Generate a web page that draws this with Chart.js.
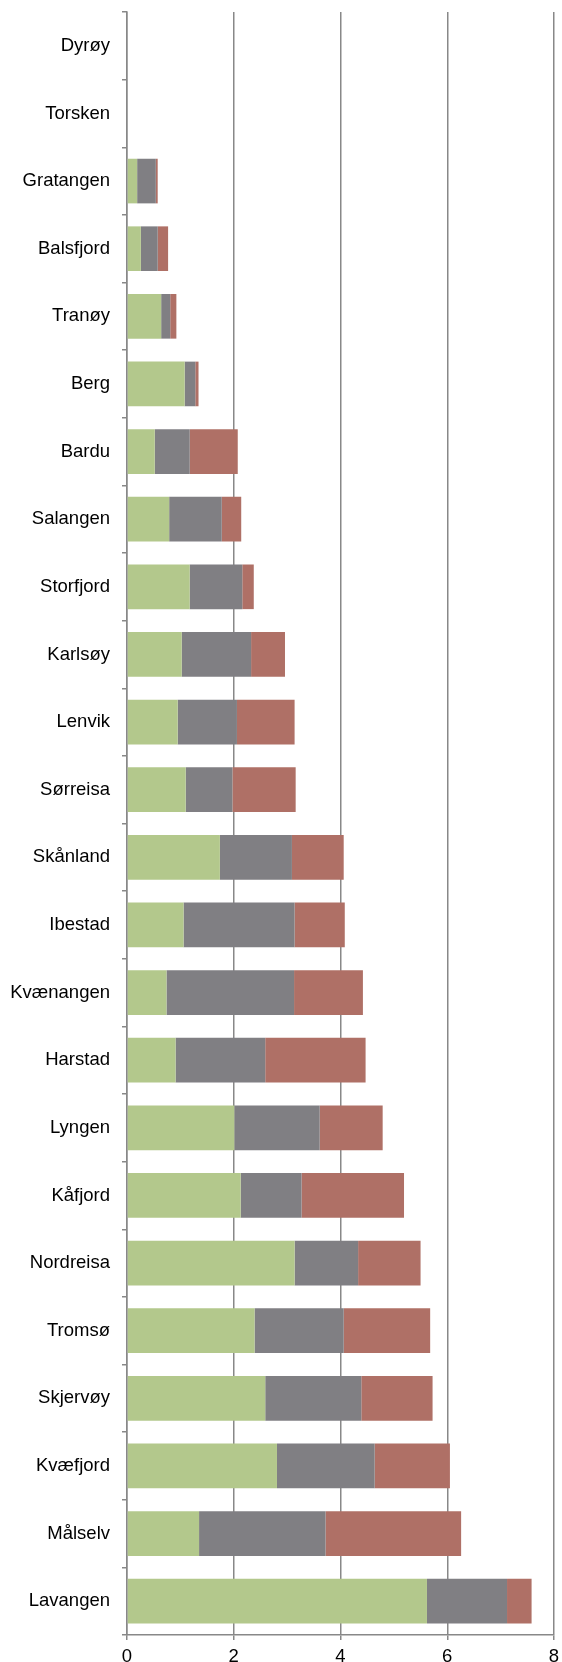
<!DOCTYPE html>
<html>
<head>
<meta charset="utf-8">
<script src="https://cdn.jsdelivr.net/npm/chart.js@4/dist/chart.umd.min.js"></script>
<style>
  html, body { margin: 0; padding: 0; background: #fff; overflow: hidden; }
  .wrap { position: relative; width: 562px; height: 1700px; }
</style>
</head>
<body>
<div class="wrap"><canvas id="chart"></canvas></div>
<script>
// kommuner, top to bottom
const kommuner = ['Dyrøy', 'Torsken', 'Gratangen', 'Balsfjord', 'Tranøy', 'Berg', 'Bardu',
  'Salangen', 'Storfjord', 'Karlsøy', 'Lenvik', 'Sørreisa', 'Skånland', 'Ibestad',
  'Kvænangen', 'Harstad', 'Lyngen', 'Kåfjord', 'Nordreisa', 'Tromsø', 'Skjervøy',
  'Kvæfjord', 'Målselv', 'Lavangen'];

// three stacked series (green, grey, red)
const serie1 = [0, 0, 0.19, 0.26, 0.64, 1.08, 0.52, 0.79, 1.175, 1.025, 0.95, 1.10, 1.74, 1.06,
  0.74, 0.91, 2.01, 2.13, 3.14, 2.39, 2.59, 2.81, 1.35, 5.62];
const serie2 = [0, 0, 0.35, 0.315, 0.17, 0.20, 0.655, 0.985, 0.985, 1.30, 1.11, 0.875, 1.35, 2.08,
  2.39, 1.68, 1.60, 1.14, 1.19, 1.67, 1.80, 1.83, 2.37, 1.50];
const serie3 = [0, 0, 0.035, 0.195, 0.115, 0.06, 0.90, 0.365, 0.215, 0.635, 1.08, 1.185, 0.97, 0.94,
  1.29, 1.88, 1.18, 1.92, 1.17, 1.62, 1.335, 1.41, 2.54, 0.46];

const xTicks = [0, 2, 4, 6, 8];

const gridColor = '#888888';
const fontSpec = { family: '"Liberation Sans", Arial, sans-serif', size: 18.5 };

new Chart(document.getElementById('chart'), {
  type: 'bar',
  data: {
    labels: kommuner,
    datasets: [
      { label: 'Serie 1', data: serie1, backgroundColor: '#b3c88c' },
      { label: 'Serie 2', data: serie2, backgroundColor: '#807f83' },
      { label: 'Serie 3', data: serie3, backgroundColor: '#af7066' }
    ]
  },
  options: {
    indexAxis: 'y',
    responsive: true,
    maintainAspectRatio: false,
    animation: false,
    barPercentage: 0.66,
    categoryPercentage: 1,
    layout: { padding: { top: 12, right: 8, left: 0, bottom: 0 } },
    plugins: {
      legend: { display: false },
      tooltip: { enabled: false }
    },
    scales: {
      x: {
        stacked: true,
        min: xTicks[0],
        max: xTicks[xTicks.length - 1],
        afterBuildTicks: (scale) => { scale.ticks = xTicks.map(v => ({ value: v })); },
        afterFit: (scale) => {
          scale.height = 65;
          scale.paddingLeft = 0;
          scale.paddingRight = 0;
        },
        grid: { color: gridColor, lineWidth: 1.5, tickLength: 5 },
        border: { color: gridColor, width: 1.5 },
        ticks: { color: '#000', font: fontSpec, padding: 6 }
      },
      y: {
        stacked: true,
        afterFit: (scale) => {
          scale.width = 127;
          scale.paddingTop = 0;
          scale.paddingBottom = 0;
        },
        grid: { offset: true, drawOnChartArea: false, color: gridColor, lineWidth: 1.5, tickLength: 5 },
        border: { color: gridColor, width: 1.5 },
        ticks: { color: '#000', font: fontSpec, padding: 12 }
      }
    }
  }
});
</script>
</body>
</html>
